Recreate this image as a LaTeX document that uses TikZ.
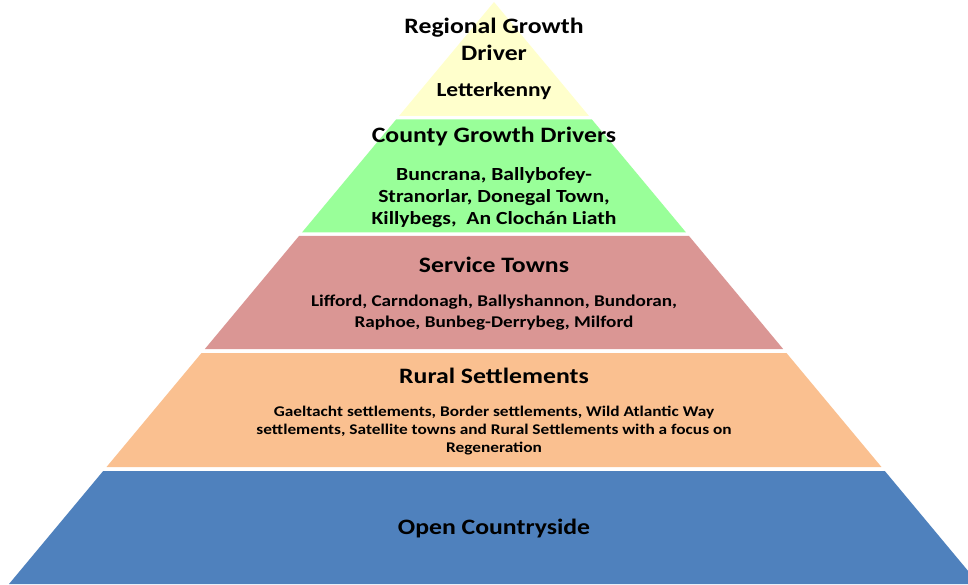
\documentclass[tikz,border=0pt]{standalone}
\usepackage{fontspec}
\setmainfont{Carlito}[FakeStretch=1.17]
\usepackage{xcolor}
\usepackage{tikz}

\definecolor{tierone}{HTML}{FFFFCC}
\definecolor{tiertwo}{HTML}{99FF99}
\definecolor{tierthree}{HTML}{DA9694}
\definecolor{tierfour}{HTML}{FAC090}
\definecolor{tierfive}{HTML}{4F81BD}

\tikzset{
	tiertitle/.style={font=\bfseries\fontsize{22}{27}\selectfont, align=center, inner sep=0},
	tiernames/.style={font=\bfseries\fontsize{18.5}{22}\selectfont, align=center, inner sep=0},
	tiersmall/.style={font=\bfseries\fontsize{14.8}{18}\selectfont, align=center, inner sep=0}
}

\begin{document}
\begin{tikzpicture}[x=1pt, y=-1pt]

\useasboundingbox (0,0) rectangle (968,585);

% bands of the pyramid, apex at (494,2)
\foreach \ta/\tb/\col in {2/116/tierone, 119.5/232.5/tiertwo, 236/349/tierthree, 353/467/tierfour, 471/584/tierfive}{

	\fill[\col] ({494-0.8333*(\ta-2)},\ta)--({494+0.8333*(\ta-2)},\ta)--
	({494+0.8333*(\tb-2)},\tb)--({494-0.8333*(\tb-2)},\tb)--cycle;

}

\node[tiertitle] (regional) at (494,39.5) {Regional Growth\\Driver};
\node[tiertitle, font=\bfseries\fontsize{20}{24}\selectfont] (letterkenny) at (494,91) {Letterkenny};

\node[tiertitle] (county) at (494,137) {County Growth Drivers};
\node[tiernames] (countytowns) at (494,197.5) {Buncrana, Ballybofey-\\Stranorlar, Donegal Town,\\Killybegs,\ \ An Clochán Liath};

\node[tiertitle] (service) at (494,265) {Service Towns};
\node[tiernames, font=\bfseries\fontsize{16.4}{21}\selectfont] (servicetowns) at (494,313) {Lifford, Carndonagh, Ballyshannon, Bundoran,\\Raphoe, Bunbeg-Derrybeg, Milford};

\node[tiertitle] (rural) at (494,375.5) {Rural Settlements};
\node[tiersmall] (ruraltowns) at (494,431) {Gaeltacht settlements, Border settlements, Wild Atlantic Way\\settlements, Satellite towns and Rural Settlements with a focus on\\Regeneration};

\node[tiertitle] (open) at (494,528.5) {Open Countryside};

\end{tikzpicture}
\end{document}
